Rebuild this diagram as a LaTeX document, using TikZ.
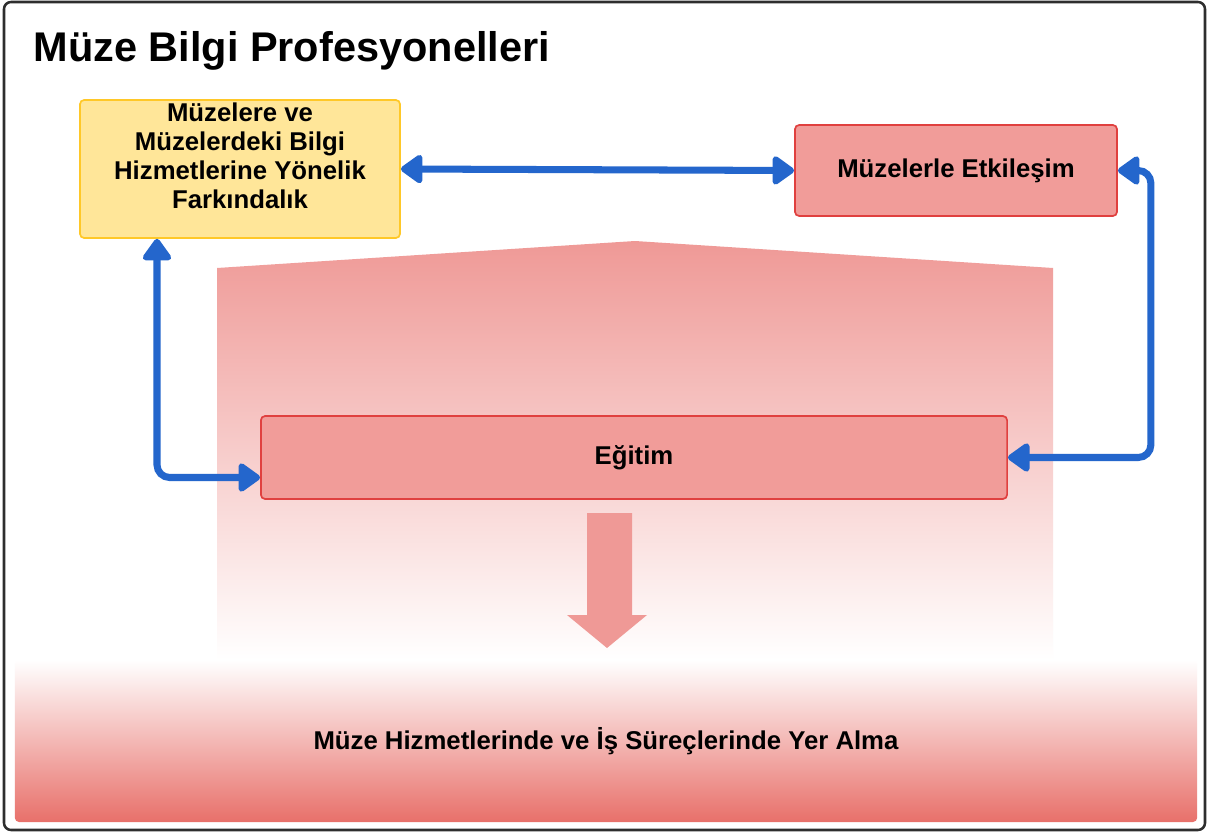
\documentclass[tikz,border=0pt]{standalone}
\usepackage{fontspec}
\setmainfont{Liberation Sans}
\usepackage{xcolor}
\usetikzlibrary{arrows.meta,calc}

\definecolor{framegray}{HTML}{2E2E2E}
\definecolor{boxred}{HTML}{F19C99}
\definecolor{edgered}{HTML}{E0403F}
\definecolor{boxyellow}{HTML}{FFE699}
\definecolor{edgeyellow}{HTML}{FFC828}
\definecolor{linkblue}{HTML}{2466CC}
\definecolor{fadered}{HTML}{EF9996}
\definecolor{bandred}{HTML}{E8706A}

\tikzset{
  boxtext/.style={font=\fontsize{18.3}{20.6}\selectfont\bfseries, text=black},
  redbox/.style={boxtext, draw=edgered, fill=boxred, line width=1.2pt, rounded corners=3pt, align=center},
  yellowbox/.style={boxtext, draw=edgeyellow, fill=boxyellow, line width=1.2pt, rounded corners=3pt, inner sep=0pt, minimum width=8cm, minimum height=3.45cm},
  bandbox/.style={boxtext, top color=white, bottom color=bandred, rounded corners=3pt, minimum width=29.55cm, minimum height=4.05cm},
  link/.style={draw=linkblue, line width=5pt, rounded corners=9pt, >={Triangle[length=17pt,width=23pt,round]}, <->}
}

\begin{document}
\begin{tikzpicture}[x=0.025cm, y=-0.025cm, thick]
    \useasboundingbox (0,0) rectangle (1210,834);
    \draw[draw=framegray, line width=1.8pt, fill=white, rounded corners=5pt] (4,2) rectangle (1205,830);
    \node[anchor=base west, inner sep=0pt, font=\fontsize{29.5}{34}\selectfont\bfseries] (title) at (33,62) {Müze Bilgi Profesyonelleri};

    \shade[top color=fadered, bottom color=white] (217,268) -- (635,241) -- (1053,268) -- (1053,660) -- (217,660) -- cycle;
    \node[bandbox] (practice) at (606,741) {Müze Hizmetlerinde ve İş Süreçlerinde Yer Alma};

    \node[yellowbox] (aware) at (240,169) {\parbox[c][3.3cm][t]{7.8cm}{\centering Müzelere ve\\ Müzelerdeki Bilgi\\ Hizmetlerine Yönelik\\ Farkındalık}};
    \node[redbox, minimum width=8.05cm, minimum height=2.275cm] (interact) at (956,170.5) {Müzelerle Etkileşim};
    \node[redbox, minimum width=18.65cm, minimum height=2.075cm] (edu) at (634,457.5) {Eğitim};

    \fill[fadered] (587,513) -- (632,513) -- (632,615) -- (647,615) -- (607,648) -- (567,615) -- (587,615) -- cycle;

    \coordinate (lbend) at (157,477);
    \draw[link] (aware.east) -- (interact.west);
    \draw[link] (aware.south -| lbend) |- ($(edu.west)+(0,20)$);
    \draw[link] (interact.east) -- ++(33,0) |- (edu.east);
\end{tikzpicture}
\end{document}
